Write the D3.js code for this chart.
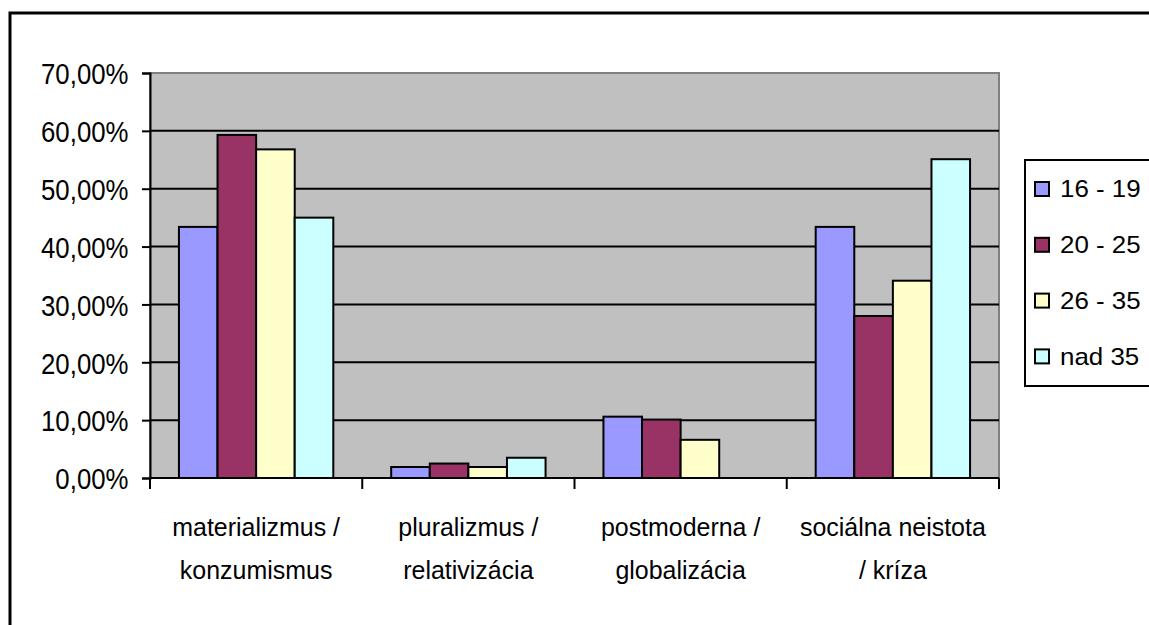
<!DOCTYPE html>
<html>
<head>
<meta charset="utf-8">
<script src="https://cdn.jsdelivr.net/npm/d3@7"></script>
<style>
  body { margin: 0; background: #fff; }
  text { font-family: "Liberation Sans", Arial, sans-serif; fill: #000; }
</style>
</head>
<body>
<script>
  // Data
  var categories = ["materializmus / konzumismus", "pluralizmus / relativizácia", "postmoderna / globalizácia", "sociálna neistota / kríza"];
  var categoryLines = [["materializmus /", "konzumismus"], ["pluralizmus /", "relativizácia"], ["postmoderna /", "globalizácia"], ["sociálna neistota", "/ kríza"]];
  var seriesNames = ["16 - 19", "20 - 25", "26 - 35", "nad 35"];
  var values1619 = [43.4, 1.9, 10.6, 43.4];
  var values2025 = [59.3, 2.5, 10.1, 28.0];
  var values2635 = [56.8, 1.9, 6.6, 34.1];
  var valuesNad35 = [45.0, 3.5, 0, 55.1];
  var yTicks = [0, 10, 20, 30, 40, 50, 60, 70];
  var colors = ["#9999ff", "#993366", "#ffffcc", "#ccffff"];

  var seriesValues = [values1619, values2025, values2635, valuesNad35];

  /***** Layout *****/
  var width = 1149, height = 625;
  var plot = { left: 150, right: 999, top: 73, bottom: 478 };

  var svg = d3.select("body").append("svg")
    .attr("width", width)
    .attr("height", height);

  // outer chart frame (runs past the window on the right and bottom)
  svg.append("rect")
    .attr("x", 10).attr("y", 13)
    .attr("width", 1300).attr("height", 800)
    .attr("fill", "#fff")
    .attr("stroke", "#000")
    .attr("stroke-width", 3);

  /***** Scales *****/
  var x0 = d3.scaleBand().domain(categories).range([plot.left, plot.right]).padding(0);
  var x1 = d3.scaleBand().domain(seriesNames).range([0, x0.bandwidth()])
    .paddingInner(0).paddingOuter(0.75);
  var y = d3.scaleLinear().domain([0, 70]).range([plot.bottom, plot.top]);

  // plot background
  svg.append("rect")
    .attr("x", plot.left).attr("y", plot.top)
    .attr("width", plot.right - plot.left).attr("height", plot.bottom - plot.top)
    .attr("fill", "#c0c0c0")
    .attr("stroke", "#808080")
    .attr("stroke-width", 2);

  // gridlines
  svg.append("g")
    .selectAll("line")
    .data(yTicks.filter(function(d) { return d > 0 && d < 70; }))
    .join("line")
    .attr("x1", plot.left).attr("x2", plot.right)
    .attr("y1", function(d) { return y(d); })
    .attr("y2", function(d) { return y(d); })
    .attr("stroke", "#000")
    .attr("stroke-width", 2);

  // bars
  var groups = svg.append("g")
    .selectAll("g")
    .data(categories)
    .join("g")
    .attr("transform", function(d) { return "translate(" + x0(d) + ",0)"; });

  groups.selectAll("rect")
    .data(function(d, i) {
      return seriesNames.map(function(s, j) { return { key: s, value: seriesValues[j][i], color: colors[j] }; })
        .filter(function(e) { return e.value > 0; });
    })
    .join("rect")
    .attr("x", function(d) { return x1(d.key); })
    .attr("y", function(d) { return y(d.value); })
    .attr("width", x1.bandwidth())
    .attr("height", function(d) { return y(0) - y(d.value); })
    .attr("fill", function(d) { return d.color; })
    .attr("stroke", "#000")
    .attr("stroke-width", 2);

  // y axis
  var yAxis = svg.append("g")
    .attr("transform", "translate(" + plot.left + ",0)")
    .call(d3.axisLeft(y).tickValues(yTicks).tickSize(8).tickPadding(17)
      .tickFormat(function(d) { return d3.format(".2f")(d).replace(".", ",") + "%"; }));
  yAxis.select(".domain").attr("stroke", "#000").attr("stroke-width", 2);
  yAxis.selectAll(".tick line").attr("stroke", "#000").attr("stroke-width", 2);
  yAxis.selectAll(".tick text")
    .attr("font-size", 30)
    .attr("font-family", "Liberation Sans, Arial, sans-serif")
    .attr("dy", "0.36em")
    .attr("transform", "scale(0.86,1)");

  // x axis
  var xAxis = svg.append("g")
    .attr("transform", "translate(0," + plot.bottom + ")");
  xAxis.append("line")
    .attr("x1", plot.left).attr("x2", plot.right)
    .attr("stroke", "#000").attr("stroke-width", 2);
  xAxis.selectAll("line.tick")
    .data(categories.concat([null]))
    .join("line")
    .attr("class", "tick")
    .attr("x1", function(d) { return d === null ? plot.right : x0(d); })
    .attr("x2", function(d) { return d === null ? plot.right : x0(d); })
    .attr("y1", 0).attr("y2", 11)
    .attr("stroke", "#000").attr("stroke-width", 2);

  xAxis.selectAll("text.cat")
    .data(categories)
    .join("text")
    .attr("class", "cat")
    .attr("text-anchor", "middle")
    .attr("font-size", 26)
    .attr("transform", "scale(0.96,1)")
    .attr("y", 58)
    .each(function(d, i) {
      var t = d3.select(this);
      categoryLines[i].forEach(function(line, k) {
        t.append("tspan")
          .attr("x", (x0(d) + x0.bandwidth() / 2) / 0.96)
          .attr("dy", k === 0 ? 0 : 43)
          .text(line);
      });
    });

  /***** Legend *****/
  var legend = svg.append("g").attr("transform", "translate(1025,160)");
  legend.append("rect")
    .attr("width", 140).attr("height", 226)
    .attr("fill", "#fff")
    .attr("stroke", "#000")
    .attr("stroke-width", 2);

  var items = legend.selectAll("g.item")
    .data(seriesNames)
    .join("g")
    .attr("class", "item")
    .attr("transform", function(d, i) { return "translate(0," + (29 + i * 55.8) + ")"; });

  items.append("rect")
    .attr("x", 10).attr("y", -7)
    .attr("width", 14).attr("height", 14)
    .attr("fill", function(d, i) { return colors[i]; })
    .attr("stroke", "#000")
    .attr("stroke-width", 2);

  items.append("text")
    .attr("x", 35 / 1.08)
    .attr("y", 0)
    .attr("dy", "0.35em")
    .attr("font-size", 24)
    .attr("transform", "scale(1.08,1)")
    .text(function(d) { return d; });
</script>
</body>
</html>
